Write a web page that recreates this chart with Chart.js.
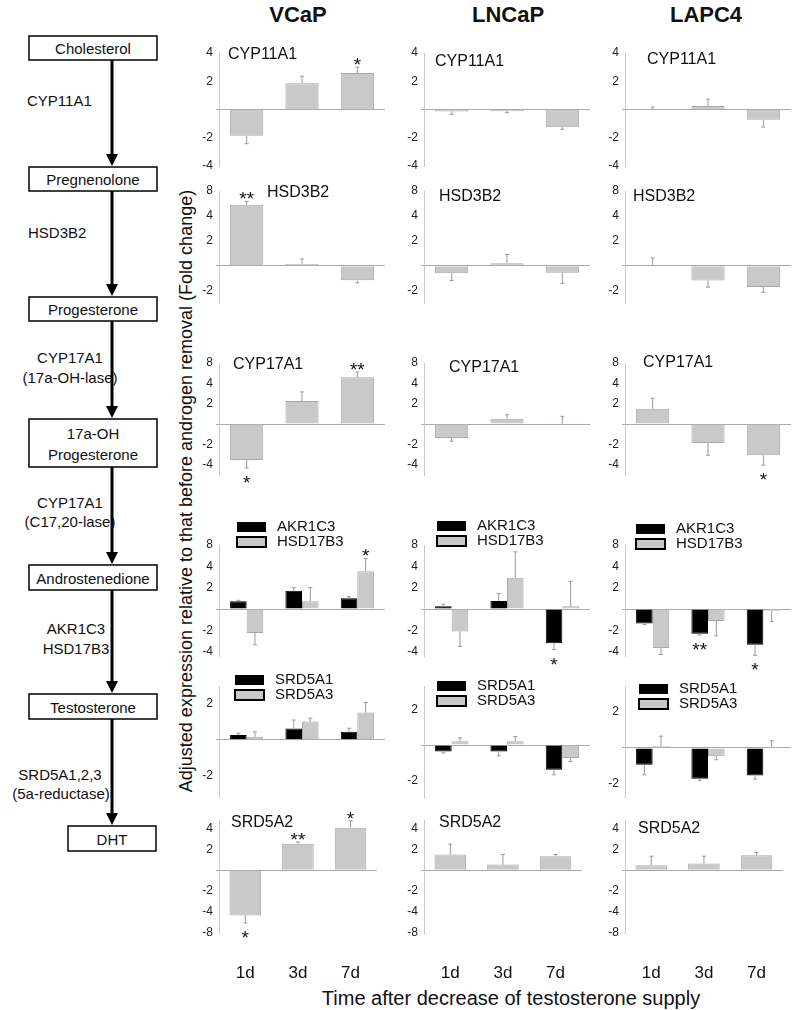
<!DOCTYPE html>
<html>
<head>
<meta charset="utf-8">
<script src="https://cdn.jsdelivr.net/npm/chart.js@4.4.0/dist/chart.umd.min.js"></script>
<style>
body{margin:0;background:#fff;width:800px;height:1010px;position:relative;overflow:hidden;font-family:"Liberation Sans",Arial,sans-serif;color:#111;}
canvas{position:absolute;}
.hdr{position:absolute;top:4px;font-weight:bold;font-size:22px;line-height:22px;transform:translateX(-50%);}
#ytitle{position:absolute;left:186px;top:491px;transform:translate(-50%,-50%) rotate(-90deg);white-space:nowrap;font-size:18px;line-height:18px;}
#xtitle{position:absolute;left:511px;top:988px;transform:translateX(-50%);white-space:nowrap;font-size:20px;line-height:20px;}
svg text{font-family:"Liberation Sans",Arial,sans-serif;font-size:15px;fill:#111;}
</style>
</head>
<body>

<svg width="180" height="880" style="position:absolute;left:0;top:0">
  <g fill="none" stroke="#000" stroke-width="1.5">
    <rect x="29" y="36" width="128" height="24"/>
    <rect x="29" y="167" width="128" height="24"/>
    <rect x="29" y="297" width="128" height="24"/>
    <rect x="29" y="419" width="128" height="48"/>
    <rect x="29" y="565" width="128" height="25"/>
    <rect x="29" y="694" width="128" height="25"/>
    <rect x="68" y="826" width="88" height="25"/>
  </g>
  <g stroke="#000" stroke-width="3">
    <line x1="112" y1="60" x2="112" y2="156"/>
    <line x1="112" y1="191" x2="112" y2="286"/>
    <line x1="112" y1="321" x2="112" y2="408"/>
    <line x1="112" y1="467" x2="112" y2="554"/>
    <line x1="112" y1="590" x2="112" y2="683"/>
    <line x1="112" y1="719" x2="112" y2="815"/>
  </g>
  <g fill="#000">
    <polygon points="106,154 118,154 112,166"/>
    <polygon points="106,284 118,284 112,296"/>
    <polygon points="106,406 118,406 112,418"/>
    <polygon points="106,552 118,552 112,564"/>
    <polygon points="106,681 118,681 112,693"/>
    <polygon points="106,813 118,813 112,825"/>
  </g>
  <g text-anchor="middle" dominant-baseline="central">
    <text x="93" y="48">Cholesterol</text>
    <text x="93" y="179">Pregnenolone</text>
    <text x="93" y="309">Progesterone</text>
    <text x="93" y="433">17a-OH</text>
    <text x="93" y="454">Progesterone</text>
    <text x="93" y="578">Androstenedione</text>
    <text x="93" y="707">Testosterone</text>
    <text x="112" y="839">DHT</text>
  </g>
  <g dominant-baseline="central">
    <text x="27" y="100">CYP11A1</text>
    <text x="28" y="232">HSD3B2</text>
  </g>
  <g text-anchor="middle" dominant-baseline="central">
    <text x="70" y="357">CYP17A1</text>
    <text x="70" y="377">(17a-OH-lase)</text>
    <text x="70" y="502">CYP17A1</text>
    <text x="70" y="521">(C17,20-lase)</text>
    <text x="76" y="628">AKR1C3</text>
    <text x="76" y="648">HSD17B3</text>
    <text x="60" y="774">SRD5A1,2,3</text>
    <text x="61" y="793">(5a-reductase)</text>
  </g>
</svg>

<div class="hdr" style="left:298px">VCaP</div>
<div class="hdr" style="left:508px">LNCaP</div>
<div class="hdr" style="left:706px">LAPC4</div>
<div id="ytitle">Adjusted expression relative to that before androgen removal (Fold change)</div>
<div id="xtitle">Time after decrease of testosterone supply</div>

<script>
// categories
const days = ['1d', '3d', '7d'];
const cellLines = ['VCaP', 'LNCaP', 'LAPC4'];

// y positions are in doubling steps, labelled as fold change
const foldSteps = [-3, -2, -1, 0, 1, 2, 3];
const foldText = ['-8', '-4', '-2', '', '2', '4', '8'];

const tickCYP11A1 = [-2, -1, 0, 1, 2];
const tickHSD3B2 = [-1, 0, 1, 2, 3];
const tickCYP17A1 = [-2, -1, 0, 1, 2, 3];
const tickAKR1C3 = [-2, -1, 0, 1, 2, 3];
const tickSRD5A1 = [-1, 0, 1];
const tickSRD5A2 = [-3, -2, -1, 0, 1, 2];

// values: one row per cell line (VCaP, LNCaP, LAPC4), one entry per day
const CYP11A1 = [[-0.93, 0.93, 1.29], [-0.07, -0.06, -0.63], [0.01, 0.12, -0.36]];
const CYP11A1_err = [[0.28, 0.25, 0.21], [0.1, 0.05, 0.07], [0.08, 0.25, 0.26]];
const CYP11A1_sig = [['', '', '*'], ['', '', ''], ['', '', '']];

const HSD3B2 = [[2.45, 0.07, -0.59], [-0.3, 0.1, -0.28], [0.01, -0.6, -0.86]];
const HSD3B2_err = [[0.13, 0.2, 0.1], [0.3, 0.35, 0.43], [0.3, 0.26, 0.21]];
const HSD3B2_sig = [['**', '', ''], ['', '', ''], ['', '', '']];

const CYP17A1 = [[-1.76, 1.13, 2.3], [-0.68, 0.26, 0.02], [0.75, -0.93, -1.53]];
const CYP17A1_err = [[0.4, 0.45, 0.26], [0.16, 0.2, 0.36], [0.52, 0.6, 0.49]];
const CYP17A1_sig = [['*', '', '**'], ['', '', ''], ['', '', '*']];

const AKR1C3 = [[0.36, 0.86, 0.51], [0.13, 0.38, -1.6], [-0.68, -1.16, -1.67]];
const AKR1C3_err = [[0.05, 0.14, 0.07], [0.1, 0.35, 0.3], [0.05, 0.05, 0.5]];
const AKR1C3_sig = [['', '', ''], ['', '', '*'], ['', '**', '*']];

const HSD17B3 = [[-1.12, 0.36, 1.77], [-1.05, 1.46, 0.13], [-1.83, -0.56, -0.08]];
const HSD17B3_err = [[0.55, 0.64, 0.6], [0.7, 1.22, 1.17], [0.3, 0.7, 0.5]];
const HSD17B3_sig = [['', '', '*'], ['', '', ''], ['', '', '']];

const SRD5A1 = [[0.13, 0.31, 0.22], [-0.18, -0.18, -0.69], [-0.47, -0.86, -0.77]];
const SRD5A1_err = [[0.05, 0.24, 0.1], [0.04, 0.12, 0.14], [0.28, 0.05, 0.1]];
const SRD5A1_sig = [['', '', ''], ['', '', ''], ['', '', '']];

const SRD5A3 = [[0.08, 0.51, 0.76], [0.11, 0.11, -0.36], [0.05, -0.23, 0.02]];
const SRD5A3_err = [[0.14, 0.09, 0.28], [0.09, 0.13, 0.1], [0.28, 0.1, 0.18]];
const SRD5A3_sig = [['', '', ''], ['', '', ''], ['', '', '']];

const SRD5A2 = [[-2.16, 1.27, 2.03], [0.75, 0.27, 0.67], [0.24, 0.32, 0.72]];
const SRD5A2_err = [[0.36, 0.08, 0.34], [0.5, 0.48, 0.08], [0.43, 0.35, 0.12]];
const SRD5A2_sig = [['*', '**', '*'], ['', '', ''], ['', '', '']];

// layout
const colX = [219, 424, 625];
const plotW = 166;
const axisW = 34;
const padTop = 30, padBottom = 20, xAxisH = 50;
const GRAY = '#c9c9c9', BLACK = '#000';

const rows = [
  {top: 53, bottom: 166, ticks: tickCYP11A1, ranges: [[-2, 2], [-2, 2], [-2, 2]],
   series: [['CYP11A1', CYP11A1, CYP11A1_err, CYP11A1_sig]],
   title: [[9, 2], [11, 9], [22, 7]]},
  {top: 191, bottom: 303, ticks: tickHSD3B2, ranges: [[-1.5, 3], [-1.5, 3], [-1.5, 3]],
   series: [['HSD3B2', HSD3B2, HSD3B2_err, HSD3B2_sig]],
   title: [[48, 2], [15, 6], [8, 6]]},
  {top: 363, bottom: 475, ticks: tickCYP17A1, ranges: [[-2.5, 3], [-2.5, 3], [-2.5, 3]],
   series: [['CYP17A1', CYP17A1, CYP17A1_err, CYP17A1_sig]],
   title: [[14, 2], [25, 5], [18, 0]]},
  {top: 545, bottom: 656, ticks: tickAKR1C3, ranges: [[-2.2, 3], [-2.2, 3], [-2.2, 3]],
   series: [['AKR1C3', AKR1C3, AKR1C3_err, AKR1C3_sig], ['HSD17B3', HSD17B3, HSD17B3_err, HSD17B3_sig]],
   legend: [[18, -23], [13, -24], [11, -21]]},
  {top: 686, bottom: 797, ticks: tickSRD5A1, ranges: [[-1.6, 1.5], [-1.45, 1.65], [-1.37, 1.73]],
   series: [['SRD5A1', SRD5A1, SRD5A1_err, SRD5A1_sig], ['SRD5A3', SRD5A3, SRD5A3_err, SRD5A3_sig]],
   legend: [[16, -11], [13, -5], [14, -2]]},
  {top: 820, bottom: 933, ticks: tickSRD5A2, ranges: [[-3, 2.4], [-3, 2.4], [-3, 2.4]],
   series: [['SRD5A2', SRD5A2, SRD5A2_err, SRD5A2_sig]],
   title: [[12, 3], [15, 3], [13, 9]], xlabels: true}
];

Chart.defaults.font.family = '"Liberation Sans", Arial, sans-serif';

function foldLabel(v) {
  const i = foldSteps.indexOf(v);
  return i < 0 ? '' : foldText[i];
}

// error bars, stars, panel title and legend
function makeDeco(row, c) {
  return {
    id: 'deco',
    afterDatasetsDraw(chart) {
      const ctx = chart.ctx;
      const y = chart.scales.y;
      const area = chart.chartArea;
      ctx.save();
      row.series.forEach((s, di) => {
        const meta = chart.getDatasetMeta(di);
        meta.data.forEach((bar, k) => {
          const v = s[1][c][k], e = s[2][c][k], sig = s[3][c][k];
          const dir = v >= 0 ? 1 : -1;
          const yEnd = y.getPixelForValue(v + dir * e);
          ctx.strokeStyle = '#9a9a9a';
          ctx.lineWidth = 1;
          ctx.beginPath();
          ctx.moveTo(bar.x, bar.y);
          ctx.lineTo(bar.x, yEnd);
          ctx.moveTo(bar.x - 2, yEnd);
          ctx.lineTo(bar.x + 2, yEnd);
          ctx.stroke();
          if (sig) {
            ctx.fillStyle = '#111';
            ctx.font = '19px "Liberation Sans", Arial, sans-serif';
            ctx.textAlign = 'center';
            ctx.textBaseline = 'alphabetic';
            ctx.fillText(sig, bar.x, dir > 0 ? yEnd + 4 : yEnd + 21);
          }
        });
      });
      if (row.title) {
        ctx.fillStyle = '#111';
        ctx.font = '16px "Liberation Sans", Arial, sans-serif';
        ctx.textAlign = 'left';
        ctx.textBaseline = 'middle';
        ctx.fillText(row.series[0][0], area.left + row.title[c][0], area.top + row.title[c][1]);
      }
      if (row.legend) {
        const lx = area.left + row.legend[c][0], ly = area.top + row.legend[c][1];
        row.series.forEach((s, di) => {
          const by = ly + di * 15;
          if (di === 0) {
            ctx.fillStyle = BLACK;
            ctx.fillRect(lx, by, 29, 10);
          } else {
            ctx.fillStyle = GRAY;
            ctx.fillRect(lx, by, 29, 10);
            ctx.strokeStyle = '#000';
            ctx.lineWidth = 2;
            ctx.strokeRect(lx, by, 29, 10);
          }
          ctx.fillStyle = '#111';
          ctx.font = '15px "Liberation Sans", Arial, sans-serif';
          ctx.textAlign = 'left';
          ctx.textBaseline = 'middle';
          ctx.fillText(s[0], lx + 40, by + 5);
        });
      }
      ctx.restore();
    }
  };
}

rows.forEach(row => {
  cellLines.forEach((line, c) => {
    const canvas = document.createElement('canvas');
    const bottomExtra = row.xlabels ? xAxisH : padBottom;
    const w = axisW + plotW + 6;
    const h = padTop + (row.bottom - row.top) + bottomExtra;
    canvas.width = w;
    canvas.height = h;
    canvas.style.left = (colX[c] - axisW) + 'px';
    canvas.style.top = (row.top - padTop) + 'px';
    document.body.appendChild(canvas);

    const two = row.series.length > 1;
    const datasets = row.series.map((s, di) => ({
      label: s[0],
      data: s[1][c],
      backgroundColor: two && di === 0 ? BLACK : GRAY,
      borderColor: two && di === 0 ? BLACK : '#a8a8a8',
      borderWidth: 1,
      barPercentage: two ? 1 : 0.6,
      categoryPercentage: two ? 0.6 : 1
    }));

    new Chart(canvas, {
      type: 'bar',
      data: {labels: days, datasets: datasets},
      options: {
        responsive: false,
        animation: false,
        layout: {padding: {top: padTop, bottom: row.xlabels ? 0 : padBottom, left: 0, right: 6}},
        plugins: {legend: {display: false}, tooltip: {enabled: false}},
        scales: {
          x: {
            display: !!row.xlabels,
            grid: {display: false, drawTicks: false},
            border: {display: false},
            ticks: {padding: 30, color: '#111', font: {size: 17}},
            afterFit: s => { if (row.xlabels) s.height = xAxisH; }
          },
          y: {
            min: row.ranges[c][0],
            max: row.ranges[c][1],
            afterFit: s => { s.width = axisW; },
            afterBuildTicks: s => { s.ticks = row.ticks.map(v => ({value: v})); },
            ticks: {callback: v => foldLabel(v), padding: 3, autoSkip: false, color: '#222', font: {size: 12}},
            grid: {
              color: ctx => (ctx.tick && ctx.tick.value === 0) ? '#aaaaaa' : 'rgba(0,0,0,0)',
              tickLength: 3
            },
            border: {color: '#c8c8c8'}
          }
        }
      },
      plugins: [makeDeco(row, c)]
    });
  });
});
</script>
</body>
</html>
